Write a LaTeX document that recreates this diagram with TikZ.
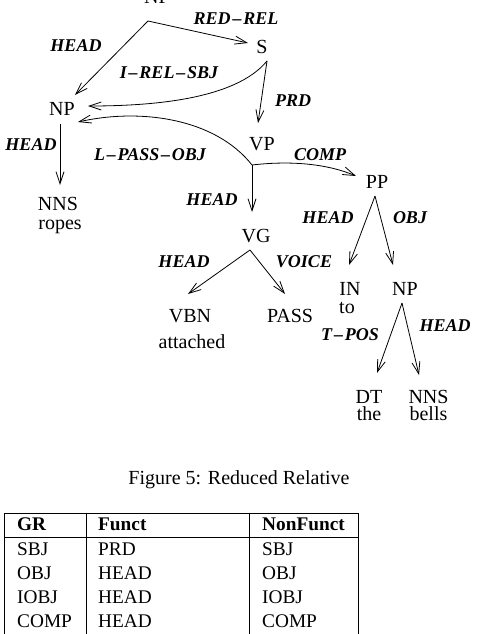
\documentclass[tikz,border=0pt]{standalone}
\usepackage{fontspec}
\setmainfont{Liberation Serif}
\usetikzlibrary{arrows.meta,calc}
\newcommand\dsh{\kern1.8pt--\kern1.8pt}
\tikzset{
  cat/.style={anchor=base, inner sep=0pt, font=\fontsize{20}{22}\selectfont},
  low/.style={cat, text height=9pt},
  pair/.style={anchor=base, inner sep=0pt, align=center, font=\fontsize{20}{17}\selectfont},
  lbl/.style={anchor=base, inner sep=0pt, font=\fontsize{18}{20}\selectfont\bfseries\itshape},
  tbl/.style={anchor=base west, inner sep=0pt, font=\fontsize{19.3}{21}\selectfont},
  edge/.style={line width=0.8pt, -{Straight Barb[length=12pt,width=8pt,line width=0.8pt]}},
  rule/.style={line width=0.9pt}
}
\begin{document}
\begin{tikzpicture}[x=1pt,y=-1pt]
\useasboundingbox (0,0) rectangle (482,634);
% nodes
\node[cat] (npt) at (157,4) {NP};
\node[cat] (s) at (262,53) {S};
\node[cat] (np1) at (62,115) {NP};
\node[cat] (vp) at (262,150) {VP};
\node[cat] (nns1) at (58,210) {NNS};
\node[low] (ropes) at (60,229) {ropes};
\node[cat] (pp) at (377,188) {PP};
\node[cat] (vg) at (256,242) {VG};
\node[cat] (in) at (350,295) {IN};
\node[low] (to) at (347,313) {to};
\node[cat] (np2) at (405,295) {NP};
\node[cat] (vbn) at (190,322) {VBN};
\node[low] (att) at (192,348) {attached};
\node[cat] (pass) at (290,322) {PASS};
\node[pair] (dt) at (369,420) {DT\\the};
\node[pair] (nns2) at (428.5,420) {NNS\\bells};
% labels
\node[lbl] (l1) at (236,25) {RED\dsh REL};
\node[lbl] (l2) at (76,52) {HEAD};
\node[lbl] (l3) at (169,78) {I\dsh REL\dsh SBJ};
\node[lbl] (l4) at (293,106) {PRD};
\node[lbl] (l5) at (31,150) {HEAD};
\node[lbl] (l6) at (150,160) {L\dsh PASS\dsh OBJ};
\node[lbl] (l7) at (320,160) {COMP};
\node[lbl] (l8) at (212,205) {HEAD};
\node[lbl] (l9) at (328,223) {HEAD};
\node[lbl] (l10) at (410,223) {OBJ};
\node[lbl] (l11) at (184,267) {HEAD};
\node[lbl] (l12) at (304,267) {VOICE};
\node[lbl] (l13) at (350,340) {T\dsh POS};
\node[lbl] (l14) at (445,331) {HEAD};
% connector points
\coordinate (nptb) at ($(npt.base)+(-9,17)$);
\coordinate (sb) at ($(s.base)+(5,8)$);
\coordinate (vpb) at ($(vp.base)+(-10,15)$);
\coordinate (np1b) at ($(np1.base)+(-2,9)$);
\coordinate (ppb) at ($(pp.base)+(-2,8)$);
\coordinate (vgb) at ($(vg.base)+(-6,8)$);
\coordinate (np2b) at ($(np2.base)+(-3,8)$);
% connectors
\draw[edge] (nptb) -- ($(np1.base)+(13,-20)$);
\draw[edge] (nptb) -- ($(s.base)+(-14,-10)$);
\draw[edge] (sb) .. controls (235,100) and (150,106) .. ($(np1.base)+(26,-9)$);
\draw[edge] (sb) -- ($(vp.base)+(-4,-27)$);
\draw[edge] (vpb) .. controls (215,118) and (140,108) .. ($(np1.base)+(16,7)$);
\draw[edge] (np1b) -- ($(nns1.base)+(2,-25)$);
\draw[edge] (vpb) -- ($(vg.base)+(-4,-30)$);
\draw[edge] (vpb) .. controls (295,160) and (330,165) .. ($(pp.base)+(-21,-12)$);
\draw[edge] (ppb) -- ($(in.base)+(-1,-30)$);
\draw[edge] (ppb) -- ($(np2.base)+(-12,-30)$);
\draw[edge] (vgb) -- ($(vbn.base)+(-2,-28)$);
\draw[edge] (vgb) -- ($(pass.base)+(-5,-28)$);
\draw[edge] (np2b) -- ($(dt.base)+(8,-47)$);
\draw[edge] (np2b) -- ($(nns2.base)+(-9.5,-45)$);
% caption
\node[cat] (cap) at (239,484) {Figure 5: Reduced Relative};
% table
\coordinate (tl) at (4.5,513);
\coordinate (tr) at (358,513);
\coordinate (hl) at (4.5,537);
\coordinate (hr) at (358,537);
\coordinate (bl) at (4.5,634);
\coordinate (br) at (358,634);
\coordinate (c1t) at (86,513);
\coordinate (c1b) at (86,634);
\coordinate (c2t) at (249.5,513);
\coordinate (c2b) at (249.5,634);
\draw[rule] (bl) -- (tl) -- (tr) -- (br);
\draw[rule] (hl) -- (hr);
\draw[rule] (c1t) -- (c1b);
\draw[rule] (c2t) -- (c2b);
\node[tbl,font=\fontsize{19.3}{21}\selectfont\bfseries] (h1) at (17,530) {GR};
\node[tbl,font=\fontsize{19.3}{21}\selectfont\bfseries] (h2) at (98,530) {Funct};
\node[tbl,font=\fontsize{19.3}{21}\selectfont\bfseries] (h3) at (262,530) {NonFunct};
\node[tbl] (r11) at (17,555) {SBJ};
\node[tbl] (r12) at (98,555) {PRD};
\node[tbl] (r13) at (262,555) {SBJ};
\node[tbl] (r21) at (17,579) {OBJ};
\node[tbl] (r22) at (98,579) {HEAD};
\node[tbl] (r23) at (262,579) {OBJ};
\node[tbl] (r31) at (17,603) {IOBJ};
\node[tbl] (r32) at (98,603) {HEAD};
\node[tbl] (r33) at (262,603) {IOBJ};
\node[tbl] (r41) at (17,627) {COMP};
\node[tbl] (r42) at (98,627) {HEAD};
\node[tbl] (r43) at (262,627) {COMP};
\end{tikzpicture}
\end{document}
